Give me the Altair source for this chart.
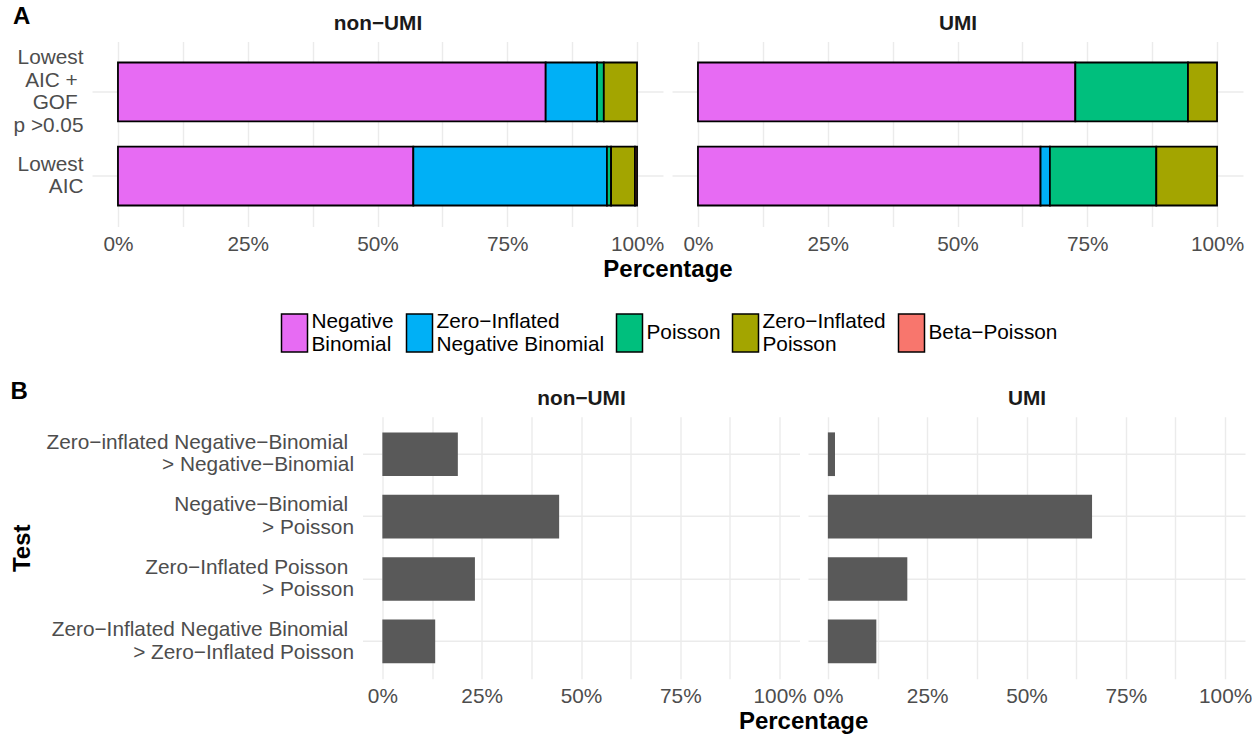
import altair as alt
import pandas as pd

FONT = "Liberation Sans"
GRID = "#EBEBEB"
LABEL_GREY = "#4D4D4D"
LINE_H = 22.5
# trailing gap kept on some label lines (the zero-width char stops trimming)
GAP = "\u00a0\u200b"

# ---- Panel A: share of genes best described by each model ----
models = [
    "Negative\nBinomial",
    "Zero\u2212Inflated\nNegative Binomial",
    "Poisson",
    "Zero\u2212Inflated\nPoisson",
    "Beta\u2212Poisson",
]
model_colors = ["#E76BF3", "#00B0F6", "#00BF7D", "#A3A500", "#F8766D"]

criteria = [f"Lowest\nAIC +{GAP}\nGOF{GAP}\np >0.05", "Lowest\nAIC"]

# percentages per criterion, in model order
nonumi_gof = [82.4, 9.9, 1.3, 6.4, 0.0]
nonumi_aic = [56.9, 37.3, 0.8, 4.6, 0.4]
umi_gof = [72.7, 0.0, 21.7, 5.6, 0.0]
umi_aic = [66.0, 1.8, 20.5, 11.7, 0.0]

# ---- Panel B: share of genes where the richer model wins the test ----
tests = [
    f"Zero\u2212inflated Negative\u2212Binomial{GAP}\n> Negative\u2212Binomial",
    f"Negative\u2212Binomial{GAP}\n> Poisson",
    f"Zero\u2212Inflated Poisson{GAP}\n> Poisson",
    f"Zero\u2212Inflated Negative Binomial{GAP}\n> Zero\u2212Inflated Poisson",
]
nonumi_test = [19.0, 44.5, 23.3, 13.3]
umi_test = [1.8, 66.5, 20.0, 12.2]


def model_table(gof, aic):
    rows = []
    for crit, vals in zip(criteria, [gof, aic]):
        for i, (m, v) in enumerate(zip(models, vals)):
            if v > 0:
                rows.append({"crit": crit, "model": m, "pct": v, "ord": i})
    return pd.DataFrame(rows)


def test_table(vals):
    return pd.DataFrame({"test": tests, "pct": vals})


grid_vals = [0, 12.5, 25, 37.5, 50, 62.5, 75, 87.5, 100]
pct_label = "(round(datum.value / 12.5) % 2 == 0) ? round(datum.value) + '%' : ''"
x_scale = alt.Scale(domain=[-5, 105], nice=False, zero=False)
band = alt.Scale(paddingInner=0.3, paddingOuter=0.25)
color_scale = alt.Scale(domain=models, range=model_colors)
split_lines = "split(datum.label, '\\n')"


def x_axis(title=None, title_x=None, label_pad=8, title_pad=3):
    kw = dict(
        values=grid_vals, labelExpr=pct_label, grid=True, gridColor=GRID,
        gridWidth=1.4, ticks=False, tickSize=0, domain=False,
        labelFontSize=20.8, labelColor=LABEL_GREY, labelPadding=label_pad,
        labelFlush=False, labelOverlap=False,
    )
    if title:
        kw.update(title=title, titleFontSize=24, titleFontWeight="bold",
                  titleColor="black", titleX=title_x, titlePadding=title_pad)
    else:
        kw.update(title=None)
    return alt.Axis(**kw)


def y_axis(labels=False, offset=None, title=None, title_x=None, title_y=None):
    kw = dict(ticks=False, tickSize=0, domain=False, grid=True,
              gridColor=GRID, gridWidth=1.4, bandPosition=0.5)
    if labels:
        # multi-line labels start at the band centre, so lift them by half
        # of the extra lines to centre the block
        kw.update(labelExpr=split_lines, labelFontSize=20.8,
                  labelColor=LABEL_GREY, labelPadding=9,
                  labelLineHeight=LINE_H, labelLimit=400,
                  labelOffset=offset)
    else:
        kw.update(labels=False)
    if title:
        kw.update(title=title, titleFontSize=24, titleFontWeight="bold",
                  titleColor="black", titleX=title_x, titleY=title_y,
                  titleAngle=270, titleAlign="center",
                  titleBaseline="middle")
    else:
        kw.update(title=None)
    return alt.Axis(**kw)


def strip(df, name):
    # invisible layer that carries the facet label as a top axis title
    return alt.Chart(df).mark_point(opacity=0).encode(
        x=alt.X("pct:Q", scale=x_scale,
                axis=alt.Axis(orient="top", title=name, labels=False,
                              ticks=False, tickSize=0, domain=False,
                              grid=False, titleFontSize=20.8,
                              titleFontWeight="bold", titleColor="#1A1A1A",
                              titlePadding=8))
    )


legend = alt.Legend(
    orient="none", legendX=188.5, legendY=277.5, direction="horizontal",
    columns=5, title=None,
    symbolType="M-1,-1.46L1,-1.46L1,1.46L-1,1.46Z", symbolSize=676,
    symbolStrokeColor="black", symbolStrokeWidth=1.5, symbolOpacity=1,
    labelFontSize=20.8, labelColor="black", labelFont=FONT,
    labelExpr=split_lines, labelLimit=400,
    labelBaseline={"expr": "indexof(datum.value, '\\n') >= 0 ? 'line-bottom' : 'middle'"},
    columnPadding=9, labelOffset=3,
)

crit_offset = {
    "condition": {"test": "indexof(datum.label, 'GOF') >= 0",
                  "value": -1.5 * LINE_H},
    "value": -0.5 * LINE_H,
}


def panel_a(df, name, first):
    bars = alt.Chart(df).mark_bar(stroke="black", strokeWidth=1.8).encode(
        x=alt.X("pct:Q", stack="zero", scale=x_scale,
                axis=x_axis("Percentage" if first else None, 575.5)),
        y=alt.Y("crit:N", sort=criteria, scale=band,
                axis=y_axis(first, crit_offset)),
        color=alt.Color("model:N", scale=color_scale,
                        legend=legend if first else None),
        order=alt.Order("ord:Q"),
    )
    chart = alt.layer(bars, strip(df, name)).resolve_axis(x="independent")
    props = dict(width=571, height=185)
    if first:
        props["title"] = alt.TitleParams(
            "A", anchor="start", frame="bounds", fontSize=24,
            fontWeight="bold", color="black", offset=-16)
    return chart.properties(**props)


def panel_b(df, name, first):
    bars = alt.Chart(df).mark_bar(color="#595959").encode(
        x=alt.X("pct:Q", scale=x_scale,
                axis=x_axis("Percentage" if first else None, 440.6)),
        y=alt.Y("test:N", sort=tests, scale=band,
                axis=y_axis(True, -0.5 * LINE_H, "Test", -339.9, 131)
                if first else y_axis(False)),
    )
    chart = alt.layer(bars, strip(df, name)).resolve_axis(x="independent")
    props = dict(width=437, height=262)
    if first:
        props["title"] = alt.TitleParams(
            "B", anchor="start", frame="bounds", fontSize=24,
            fontWeight="bold", color="black", offset=-16)
    return chart.properties(**props)


row_a = alt.hconcat(
    panel_a(model_table(nonumi_gof, nonumi_aic), "non\u2212UMI", True),
    panel_a(model_table(umi_gof, umi_aic), "UMI", False),
    spacing=9, bounds="flush",
).resolve_scale(color="independent")

# empty view that pushes panel B's plots to the right of its long labels
spacer = alt.Chart(pd.DataFrame({"pct": [0]})).mark_point(opacity=0).properties(
    width=261.4, height=1)

row_b = alt.hconcat(
    spacer,
    panel_b(test_table(nonumi_test), "non\u2212UMI", True),
    panel_b(test_table(umi_test), "UMI", False),
    spacing=8.5, bounds="flush",
)

chart = alt.vconcat(row_a, row_b, spacing=24.3).properties(
    padding={"left": 10, "top": 4.5, "right": 0, "bottom": 3},
    background="white",
).configure(font=FONT).configure_view(stroke=None)

chart.save("out.html", embed_options={"renderer": "svg", "actions": False})
